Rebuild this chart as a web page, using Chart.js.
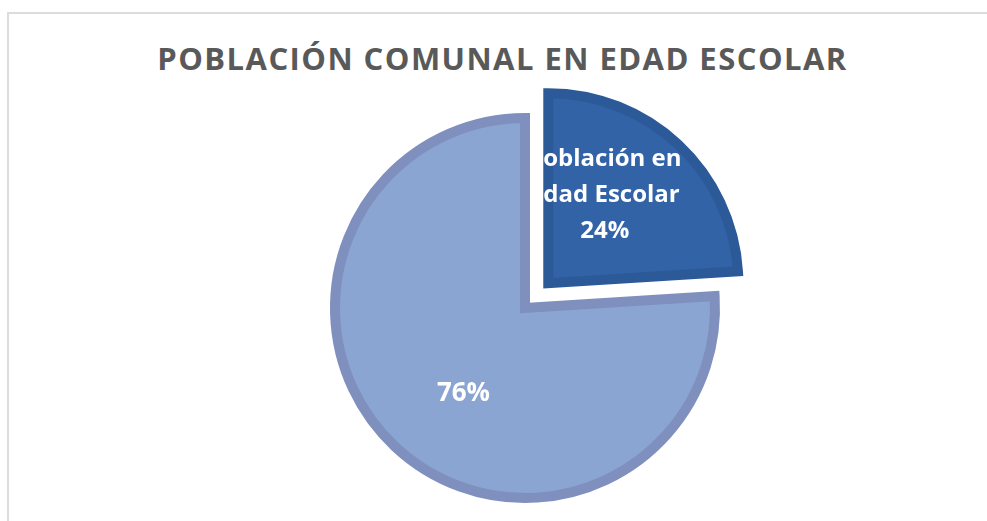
<!DOCTYPE html>
<html lang="es">
<head>
    <meta charset="UTF-8">
    <title>Población comunal en edad escolar</title>
    <style>
        body {
            margin: 0;
            padding: 0;
            width: 987px;
            height: 521px;
            overflow: hidden;
            background-color: #fff;
            font-family: "Open Sans", Arial, sans-serif;
            position: relative;
        }

        #frame {
            position: absolute;
            left: 7px;
            top: 12px;
            width: 2000px;
            height: 2000px;
            border-left: 2px solid #dcdcdc;
            border-top: 2px solid #dcdcdc;
        }

        #title {
            position: absolute;
            left: 0;
            top: 40px;
            width: 1005px;
            text-align: center;
            font-size: 31px;
            font-weight: bold;
            line-height: 36px;
            letter-spacing: 1.45px;
            color: #595959;
            margin: 0;
        }

        #wrap {
            position: absolute;
            left: 0;
            top: 0;
            width: 987px;
            height: 521px;
        }
    </style>
    <script src="https://cdn.jsdelivr.net/npm/chart.js"></script>
</head>
<body>
    <div id="frame"></div>
    <h1 id="title">POBLACIÓN COMUNAL EN EDAD ESCOLAR</h1>
    <div id="wrap"><canvas id="pieChart"></canvas></div>

    <script>
        // data
        const categories = [['Población en', 'Edad Escolar'], ''];
        const values = [24, 76];
        const showName = [true, false];

        const fillColors = ['#3263a7', '#8aa5d1'];
        const edgeColors = ['#2c5a99', '#7f8fbe'];
        // label nudges (px) relative to the slice bisector point
        const labelDx = [-15, 10];
        const labelDy = [-12, 9];
        const labelSize = [24, 26];

        const total = values.reduce((a, b) => a + b, 0);

        // white data labels, placed from each arc's own geometry
        const pieLabels = {
            id: 'pieLabels',
            afterDatasetsDraw(chart) {
                const ctx = chart.ctx;
                const meta = chart.getDatasetMeta(0);
                meta.data.forEach(function(arc, i) {
                    const p = arc.getProps(['x', 'y', 'startAngle', 'endAngle', 'outerRadius']);
                    const mid = (p.startAngle + p.endAngle) / 2;
                    const off = (arc.options.offset || 0) / 4;
                    const d = p.outerRadius * 0.55 + off;
                    const cx = p.x + Math.cos(mid) * d + labelDx[i];
                    const cy = p.y + Math.sin(mid) * d + labelDy[i];

                    let lines = [];
                    if (showName[i]) {
                        lines = lines.concat(categories[i]);
                    }
                    lines.push(Math.round(values[i] / total * 100) + '%');

                    const lh = 36;
                    ctx.save();
                    ctx.fillStyle = '#ffffff';
                    ctx.font = 'bold ' + labelSize[i] + 'px "Open Sans"';
                    ctx.textAlign = 'center';
                    ctx.textBaseline = 'middle';
                    const top = cy - (lines.length - 1) * lh / 2;
                    lines.forEach(function(t, k) {
                        ctx.fillText(t, cx, top + k * lh);
                    });
                    ctx.restore();
                });
            }
        };

        var ctx = document.getElementById('pieChart').getContext('2d');
        var pieChart = new Chart(ctx, {
            type: 'pie',
            data: {
                labels: categories,
                datasets: [{
                    data: values,
                    backgroundColor: fillColors,
                    borderColor: edgeColors,
                    borderWidth: 10,
                    borderJoinStyle: 'miter',
                    offset: [136, 0]
                }]
            },
            options: {
                responsive: true,
                maintainAspectRatio: false,
                animation: false,
                radius: 190,
                layout: {
                    padding: { left: 63, right: 0, top: 95, bottom: 0 }
                },
                plugins: {
                    legend: { display: false },
                    title: { display: false },
                    tooltip: { enabled: false }
                }
            },
            plugins: [pieLabels]
        });
    </script>
</body>
</html>
